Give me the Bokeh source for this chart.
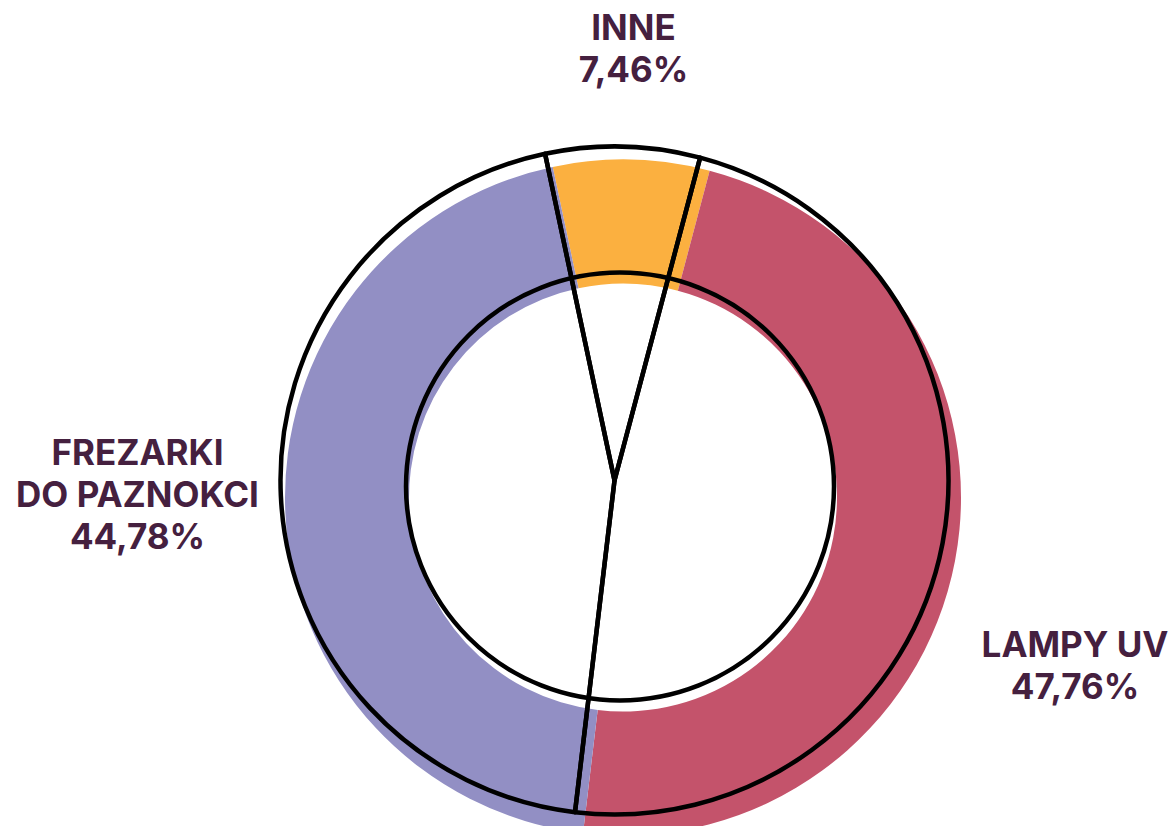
import math
from bokeh.plotting import figure
from bokeh.models import Range1d, ColumnDataSource
from bokeh.core.properties import value
from bokeh.embed import file_html
from bokeh.resources import INLINE

# ---- data ----
categories = ["INNE", "LAMPY UV", "FREZARKI DO PAZNOKCI"]
shares = [7.46, 47.76, 44.78]
colors = ["#FBB040", "#C4536B", "#928FC4"]
label_names = [["INNE"], ["LAMPY UV"], ["FREZARKI", "DO PAZNOKCI"]]

# ---- layout / style (screen-like units: 1 unit = 1 px, y measured upward) ----
W, H = 1171, 826
start_deg = -12.0          # clockwise from 12 o'clock where the first slice starts
fill_center = (622.5, 329.0)
fill_r_in, fill_r_out = 214, 338
outline_center = (614.0, 346.0)
outline_r = 334
inner_ring_center = (619.5, 340.0)
inner_ring_r = 214
label_anchor_x = [633, 1074.5, 137]
label_anchor_y = [800, 183, 375]   # baseline of the first line
line_gap = 42
text_color = "#45203F"

p = figure(width=W, height=H, x_range=Range1d(0, W), y_range=Range1d(0, H),
           output_backend="svg", toolbar_location=None, min_border=0)
p.axis.visible = False
p.grid.visible = False
p.outline_line_color = None
p.background_fill_color = "white"
p.border_fill_color = "white"

total = sum(shares)
starts, ends = [], []
acc = 0.0
for v in shares:
    t0 = start_deg + 360.0 * acc / total
    acc += v
    t1 = start_deg + 360.0 * acc / total
    # convert clockwise-from-top to Bokeh's anticlockwise-from-x
    starts.append(math.radians(90 - t1))
    ends.append(math.radians(90 - t0))

src = ColumnDataSource(dict(cat=categories, share=shares, color=colors,
                            start=starts, end=ends))

# coloured (offset) donut
p.annular_wedge(x=fill_center[0], y=fill_center[1], inner_radius=fill_r_in,
                outer_radius=fill_r_out, start_angle="start", end_angle="end",
                fill_color="color", line_color=None, source=src)

# black outline: wedges give the outer arc plus the spokes to the centre
p.wedge(x=outline_center[0], y=outline_center[1], radius=outline_r,
        start_angle="start", end_angle="end", fill_color=None,
        line_color="black", line_width=4.5, line_join="round", source=src)
p.circle(x=[inner_ring_center[0]], y=[inner_ring_center[1]], radius=inner_ring_r,
         fill_color=None, line_color="black", line_width=4.5)

# labels
tx, ty, tt = [], [], []
for i, names in enumerate(label_names):
    lines = names + [("%.2f" % shares[i]).replace(".", ",") + "%"]
    for j, t in enumerate(lines):
        tx.append(label_anchor_x[i])
        ty.append(label_anchor_y[i] - j * line_gap)
        tt.append(t)
p.text(x=tx, y=ty, text=tt, text_align="center", text_baseline="alphabetic",
       text_font=value("Inter"), text_font_style="bold", text_font_size="35px",
       text_color=text_color)

open("out.html", "w").write(file_html(p, INLINE))
